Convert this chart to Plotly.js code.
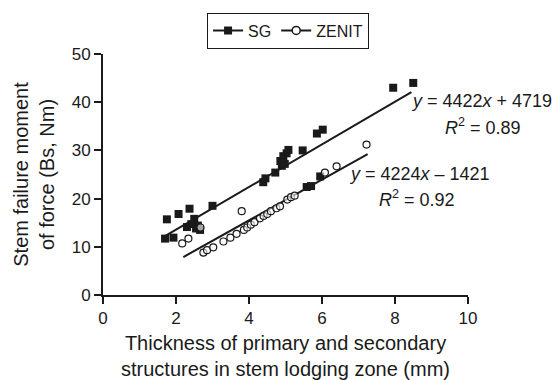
<!DOCTYPE html>
<html>
<head>
<meta charset="utf-8">
<script src="https://cdn.plot.ly/plotly-3.0.1.min.js"></script>
<style>html,body{margin:0;padding:0;background:#fff;}#chart{width:556px;height:380px;}</style>
</head>
<body>
<div id="chart"></div>
<script>
// SG (filled squares)
var sgX = [1.70, 1.93, 1.75, 2.07, 2.37, 3.00, 2.30, 2.42, 2.50, 2.55, 2.60, 2.66, 4.39, 4.45, 4.72, 4.86, 4.90, 4.94, 5.03, 4.98, 5.08, 5.47, 5.86, 6.02, 7.95, 8.50, 5.58, 5.70, 5.95];
var sgY = [11.7, 11.9, 15.7, 16.8, 17.9, 18.5, 14.1, 14.7, 15.8, 13.8, 14.4, 13.5, 23.4, 24.2, 25.4, 27.8, 26.8, 28.8, 29.4, 27.2, 30.1, 30.0, 33.5, 34.3, 43.0, 44.0, 22.4, 22.6, 24.6];
// ZENIT (open circles)
var zeX = [2.17, 2.34, 2.67, 2.75, 2.85, 3.02, 3.30, 3.49, 3.66, 3.80, 3.86, 3.95, 4.05, 4.15, 4.30, 4.40, 4.50, 4.60, 4.75, 4.85, 5.05, 5.15, 5.25, 6.08, 6.40, 7.22];
var zeY = [10.7, 11.7, 14.0, 8.8, 9.3, 9.9, 11.1, 11.9, 12.7, 17.4, 13.5, 14.0, 14.6, 15.1, 15.9, 16.4, 16.8, 17.4, 18.0, 18.4, 19.8, 20.3, 20.6, 25.4, 26.7, 31.2];
// regression fits (slope, intercept in plotted units) and the x span drawn
var sgFit = [4.422, 4.719], sgFitRange = [1.65, 8.45];
var zeFit = [4.224, -1.421], zeFitRange = [2.2, 7.25];
var eqLabels = ['<i>y</i> = 4422<i>x</i> + 4719', '<i>R</i><sup>2</sup> = 0.89', '<i>y</i> = 4224<i>x</i> – 1421', '<i>R</i><sup>2</sup> = 0.92'];
var seriesNames = ['SG', 'ZENIT'];
var xTicks = [0, 2, 4, 6, 8, 10];
var yTicks = [0, 10, 20, 30, 40, 50];

function fitLine(fit, range) {
  return {x: range, y: range.map(function (v) { return fit[0] * v + fit[1]; })};
}
var sgL = fitLine(sgFit, sgFitRange), zeL = fitLine(zeFit, zeFitRange);
var ink = '#1a1a1a';
var font = '"Liberation Sans", Arial, Helvetica, sans-serif';

var traces = [
  {x: sgL.x, y: sgL.y, mode: 'lines', line: {color: ink, width: 2}, showlegend: false, hoverinfo: 'skip'},
  {x: zeL.x, y: zeL.y, mode: 'lines', line: {color: ink, width: 2}, showlegend: false, hoverinfo: 'skip'},
  {x: sgX, y: sgY, mode: 'markers', name: seriesNames[0], showlegend: false,
   marker: {symbol: 'square', size: 8, color: ink}},
  {x: zeX, y: zeY, mode: 'markers', name: seriesNames[1], showlegend: false,
   marker: {symbol: 'circle', size: 7, color: 'rgba(255,255,255,0.6)', line: {color: ink, width: 1.2}}},
  {x: [null], y: [null], mode: 'lines+markers', name: seriesNames[0],
   line: {color: ink, width: 2}, marker: {symbol: 'square', size: 8, color: ink}},
  {x: [null], y: [null], mode: 'lines+markers', name: seriesNames[1],
   line: {color: ink, width: 2}, marker: {symbol: 'circle', size: 8, color: '#fff', line: {color: ink, width: 1.5}}}
];

var annFont = {family: font, size: 18, color: ink};
var layout = {
  width: 556, height: 380,
  margin: {l: 103, r: 88, t: 52, b: 85},
  paper_bgcolor: '#fff', plot_bgcolor: '#fff',
  font: {family: font, color: ink, size: 16},
  showlegend: true,
  legend: {orientation: 'h', x: 0.507, xanchor: 'center', y: 1.172, yanchor: 'top',
           bordercolor: ink, borderwidth: 1, font: {family: font, size: 16, color: ink},
           itemwidth: 30, tracegroupgap: 0},
  xaxis: {range: [0, 10], tickvals: xTicks, ticktext: xTicks.map(String), ticks: 'outside', ticklen: 7, tickwidth: 2,
          tickcolor: ink, showline: true, linecolor: ink, linewidth: 2, showgrid: false, zeroline: false,
          tickfont: {size: 17}, fixedrange: true,
          title: {text: 'Thickness of primary and secondary<br>structures in stem lodging zone (mm)', font: {size: 20}, standoff: 9}},
  yaxis: {range: [0, 50], tickvals: yTicks, ticktext: yTicks.map(String), ticks: 'outside', ticklen: 7, tickwidth: 2,
          tickcolor: ink, showline: true, linecolor: ink, linewidth: 2, showgrid: false, zeroline: false,
          tickfont: {size: 17}, fixedrange: true,
          title: {text: 'Stem failure moment<br>of force (Bs, Nm)', font: {size: 20}, standoff: 12}},
  annotations: [
    {xref: 'paper', yref: 'paper', x: 1.0375, y: 0.804, text: eqLabels[0], showarrow: false, font: annFont, xanchor: 'center', yanchor: 'middle'},
    {xref: 'paper', yref: 'paper', x: 1.0416, y: 0.701, text: eqLabels[1], showarrow: false, font: annFont, xanchor: 'center', yanchor: 'middle'},
    {xref: 'paper', yref: 'paper', x: 0.868, y: 0.503, text: eqLabels[2], showarrow: false, font: annFont, xanchor: 'center', yanchor: 'middle'},
    {xref: 'paper', yref: 'paper', x: 0.860, y: 0.400, text: eqLabels[3], showarrow: false, font: annFont, xanchor: 'center', yanchor: 'middle'}
  ]
};
Plotly.newPlot('chart', traces, layout, {displayModeBar: false, staticPlot: true});
</script>
</body>
</html>
